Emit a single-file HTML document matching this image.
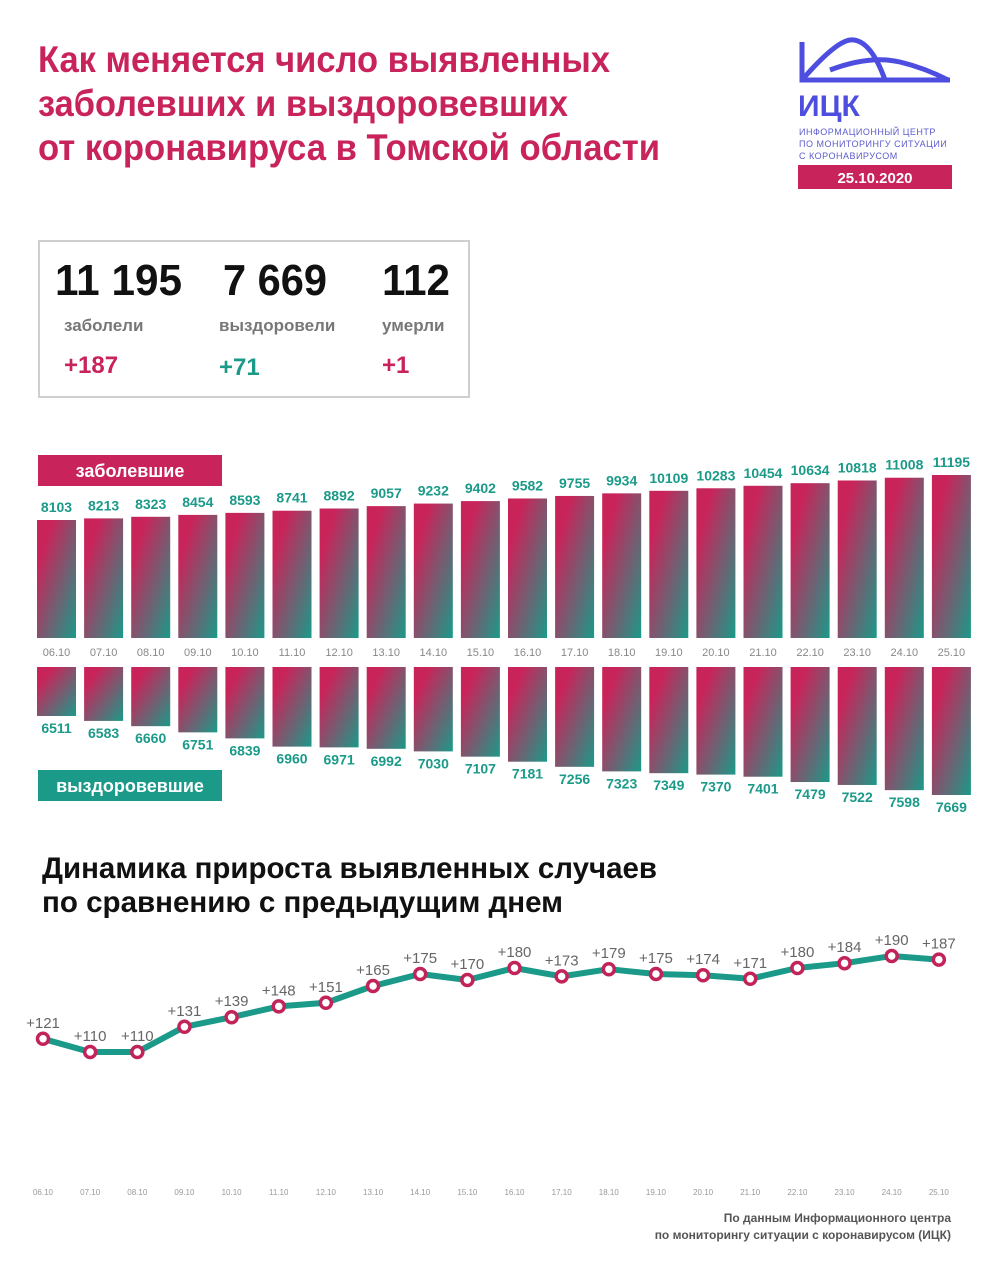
<!DOCTYPE html>
<html><head><meta charset="utf-8">
<style>
body{margin:0;background:#fff;width:992px;height:1280px;overflow:hidden;font-family:"Liberation Sans",sans-serif;}
svg{position:absolute;left:0;top:0}
</style></head>
<body>
<svg id="s" width="992" height="1280" viewBox="0 0 992 1280" font-family="Liberation Sans, sans-serif">
<defs>
<linearGradient id="g" x1="0" y1="0" x2="1" y2="1">
<stop offset="0.2" stop-color="#c9245a"/><stop offset="1" stop-color="#1b9a89"/>
</linearGradient>
</defs>
<g font-weight="bold" fill="#c8235a" font-size="37">
<text x="38" y="72" textLength="572" lengthAdjust="spacingAndGlyphs">Как меняется число выявленных</text>
<text x="38" y="116" textLength="530" lengthAdjust="spacingAndGlyphs">заболевших и выздоровевших</text>
<text x="38" y="160" textLength="622" lengthAdjust="spacingAndGlyphs">от коронавируса в Томской области</text>
</g>
<!-- logo -->
<g fill="none" stroke="#4d4ee0" stroke-width="5">
<path d="M802 42 L802 80 L950 80"/>
<path d="M802 80 Q835 42 850 40 Q870 38 885 80"/>
<path d="M830 70 Q870 55 900 62 Q925 68 948 80"/>
</g>
<text x="798" y="116" font-size="30" font-weight="bold" fill="#4d4ee0">ИЦК</text>
<g font-size="9" fill="#5c5ccc" letter-spacing="0.5">
<text x="799" y="135">ИНФОРМАЦИОННЫЙ ЦЕНТР</text>
<text x="799" y="147">ПО МОНИТОРИНГУ СИТУАЦИИ</text>
<text x="799" y="159">С КОРОНАВИРУСОМ</text>
</g>
<rect x="798" y="165" width="154" height="24" fill="#c8235a"/>
<text x="875" y="183" font-size="15" font-weight="bold" fill="#fff" text-anchor="middle">25.10.2020</text>
<!-- stats -->
<rect x="39" y="241" width="430" height="156" fill="none" stroke="#cfcfcf" stroke-width="2"/>
<g font-size="44" font-weight="bold" fill="#111">
<text x="55" y="295" textLength="127" lengthAdjust="spacingAndGlyphs">11 195</text><text x="223" y="295" textLength="104" lengthAdjust="spacingAndGlyphs">7 669</text><text x="382" y="295" textLength="68" lengthAdjust="spacingAndGlyphs">112</text>
</g>
<g font-size="17" font-weight="bold" fill="#777">
<text x="64" y="331">заболели</text><text x="219" y="331">выздоровели</text><text x="382" y="331">умерли</text>
</g>
<g font-size="24" font-weight="bold">
<text x="64" y="373" fill="#c8235a">+187</text><text x="219" y="375" fill="#1b9a89">+71</text><text x="382" y="373" fill="#c8235a">+1</text>
</g>
<rect x="38" y="455" width="184" height="31" fill="#c8235a"/>
<text x="130" y="477" font-size="18" font-weight="bold" fill="#fff" text-anchor="middle">заболевшие</text>
<rect x="38" y="770" width="184" height="31" fill="#1b9a89"/>
<text x="130" y="792" font-size="18" font-weight="bold" fill="#fff" text-anchor="middle">выздоровевшие</text>
<g font-weight="bold" fill="#111" font-size="30">
<text x="42" y="878" textLength="615" lengthAdjust="spacingAndGlyphs">Динамика прироста выявленных случаев</text>
<text x="42" y="912" textLength="521" lengthAdjust="spacingAndGlyphs">по сравнению с предыдущим днем</text>
</g>
<g font-size="12" font-weight="bold" fill="#555" text-anchor="end">
<text x="951" y="1222">По данным Информационного центра</text>
<text x="951" y="1239">по мониторингу ситуации с коронавирусом (ИЦК)</text>
</g>
<g id="dyn"></g>
</svg>
<script>
var top_=[8103,8213,8323,8454,8593,8741,8892,9057,9232,9402,9582,9755,9934,10109,10283,10454,10634,10818,11008,11195];
var bot=[6511,6583,6660,6751,6839,6960,6971,6992,7030,7107,7181,7256,7323,7349,7370,7401,7479,7522,7598,7669];
var inc=[121,110,110,131,139,148,151,165,175,170,180,173,179,175,174,171,180,184,190,187];
var h='';
var pts=[];
for(var i=0;i<20;i++){
 var x=37+i*47.1, w=39, cx=x+w/2;
 var d=('0'+(6+i)).slice(-2)+'.10';
 var th=118+(top_[i]-8103)*45/3092;
 h+='<rect x="'+x+'" y="'+(638-th)+'" width="'+w+'" height="'+th+'" fill="url(#g)"/>';
 h+='<text x="'+cx+'" y="'+(638-th-8)+'" font-size="14" font-weight="bold" fill="#1b9a89" text-anchor="middle">'+top_[i]+'</text>';
 h+='<text x="'+cx+'" y="656" font-size="11" fill="#888" text-anchor="middle">'+d+'</text>';
 var bh=49+(bot[i]-6511)*79/1158;
 h+='<rect x="'+x+'" y="667" width="'+w+'" height="'+bh+'" fill="url(#g)"/>';
 h+='<text x="'+cx+'" y="'+(667+bh+17)+'" font-size="14" font-weight="bold" fill="#1b9a89" text-anchor="middle">'+bot[i]+'</text>';
 var px=43+i*47.15, py=1052-(inc[i]-110)*1.2;
 pts.push(px+','+py);
 h+='<text x="'+px+'" y="1195" font-size="8" fill="#999" text-anchor="middle">'+d+'</text>';
}
h+='<polyline points="'+pts.join(' ')+'" fill="none" stroke="#1b9a89" stroke-width="6" stroke-linejoin="round"/>';
for(var i=0;i<20;i++){
 var px=43+i*47.15, py=1052-(inc[i]-110)*1.2;
 h+='<circle cx="'+px+'" cy="'+py+'" r="5.5" fill="#fff" stroke="#c2245a" stroke-width="3.5"/>';
 h+='<text x="'+px+'" y="'+(py-11)+'" font-size="15" fill="#666" text-anchor="middle">+'+inc[i]+'</text>';
}
document.getElementById('dyn').innerHTML=h;
</script>
</body></html>
